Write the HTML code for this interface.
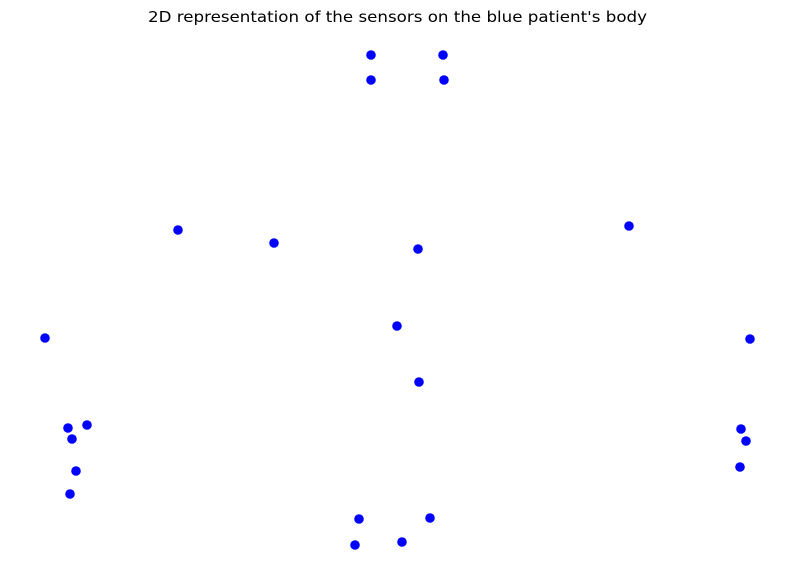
<!DOCTYPE html>
<html>
<head>
<meta charset="utf-8">
<style>
  html,body{margin:0;padding:0;background:#fff;}
  svg{display:block;}
  text{font-family:"DejaVu Sans","Liberation Sans",sans-serif;}
</style>
</head>
<body>
<svg id="chart" width="794" height="579" viewBox="0 0 794 579">
  <rect width="794" height="579" fill="#fff"/>
  <text x="397.5" y="22" text-anchor="middle" font-size="15.5" textLength="499" lengthAdjust="spacingAndGlyphs" fill="#000">2D representation of the sensors on the blue patient's body</text>
  <g id="points"></g>
</svg>
<script>
const sensorX = [371,443,371,444,178,274,418,629,45,397,750,419,68,87,72,741,746,76,740,70,359,430,355,402];
const sensorY = [524,524,499,499,349,336,330,353,241,253,240,197,151,154,140,150,138,108,112,85,60,61,34,37];
const xDomain = [0, 794];
const yDomain = [0, 579];
const plot = {left: 0, right: 794, top: 0, bottom: 579};
function sx(v){ return plot.left + (v - xDomain[0]) / (xDomain[1] - xDomain[0]) * (plot.right - plot.left); }
function sy(v){ return plot.bottom - (v - yDomain[0]) / (yDomain[1] - yDomain[0]) * (plot.bottom - plot.top); }
const g = document.getElementById('points');
const ns = 'http://www.w3.org/2000/svg';
for (let i = 0; i < sensorX.length; i++) {
  const c = document.createElementNS(ns, 'circle');
  c.setAttribute('cx', sx(sensorX[i]));
  c.setAttribute('cy', sy(sensorY[i]));
  c.setAttribute('r', 4.8);
  c.setAttribute('fill', '#0000ff');
  
  
  g.appendChild(c);
}
</script>
</body>
</html>
